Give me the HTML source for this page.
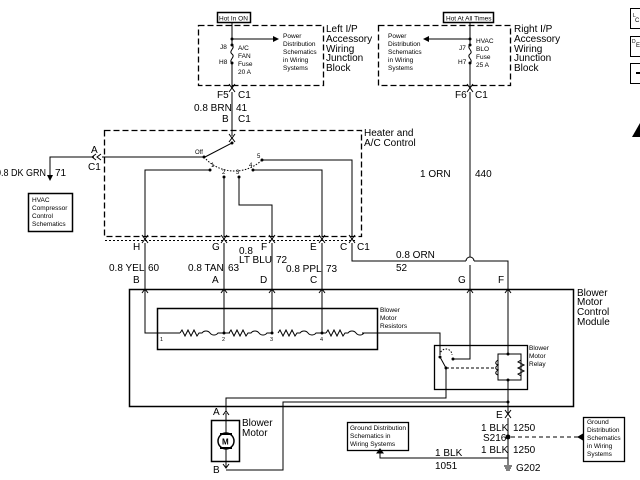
<!DOCTYPE html>
<html><head><meta charset="utf-8"><style>
html,body{margin:0;padding:0;background:#fff}
svg{display:block}
text{font-family:"Liberation Sans",sans-serif;fill:#000}
.s{font-size:6.5px}
.m{font-size:10px}
</style></head><body>
<svg width="640" height="480" viewBox="0 0 640 480" xmlns="http://www.w3.org/2000/svg">
<defs>
<marker id="ar" markerWidth="6" markerHeight="6" refX="5" refY="3" orient="auto"><path d="M0,0L6,3L0,6z" fill="#000"/></marker>
</defs>
<g fill="none" stroke="#000" stroke-width="1">
<rect x="217.5" y="12.5" width="33" height="10" stroke-width="1.5"/>
<rect x="443.5" y="12.5" width="50" height="10" stroke-width="1.5"/>
<rect x="198.5" y="25.5" width="125" height="60" stroke-dasharray="6,3" stroke-width="1.3"/>
<rect x="378.5" y="25.5" width="132" height="60" stroke-dasharray="6,3" stroke-width="1.3"/>
<path d="M232,22V45M232,63V88"/>
<path d="M232,45c4,3 -4,6 0,9c4,3 -4,6 0,9"/>
<path d="M232,39H278" marker-end="url(#ar)"/>
<path d="M229,84l3,4l3,-4M229,92l3,-4l3,4"/>
<path d="M232,92V136"/>
<path d="M229,134l3,4l3,-4M229,142l3,-4l3,4"/>
<path d="M470,22V45M470,63V88"/>
<path d="M470,45c-4,3 4,6 0,9c-4,3 4,6 0,9"/>
<path d="M470,39H424" marker-end="url(#ar)"/>
<path d="M467,84l3,4l3,-4M467,92l3,-4l3,4"/>
<path d="M470,92V257"/>
<path d="M466,261a4,4 0 0 1 8,0"/>
<path d="M470,265V289"/>
<rect x="104.5" y="130.5" width="257" height="106" stroke-dasharray="6,3" stroke-width="1.3"/>
<path d="M232,142V143L205,157" />
<path d="M204,157H102"/>
<path d="M101,154l-4,3l4,3M96,154l-4,3l4,3"/>
<path d="M94,157H50V180" marker-end="url(#ar)"/>
<rect x="28.5" y="193.5" width="44" height="38" stroke-width="1.5"/>
<path d="M204,157A40,40 0 0 0 262,160" stroke-dasharray="1.5,1.5"/>
<path d="M210,170H145V237M224,177V237M239,177V205H272V237M253,170H322V237M262,160H352V237"/>
<path d="M105,240.5H356" stroke-dasharray="2,2"/>
<path d="M142,235l3,4l3,-4M142,243l3,-4l3,4M221,235l3,4l3,-4M221,243l3,-4l3,4M269,235l3,4l3,-4M269,243l3,-4l3,4M319,235l3,4l3,-4M319,243l3,-4l3,4M349,235l3,4l3,-4M349,243l3,-4l3,4"/>
<path d="M145,243V289M224,243V289M272,243V289M322,243V289"/>
<path d="M352,243V261H466M474,261H508V289"/>
<path d="M142,293l3,-4l3,4M221,293l3,-4l3,4M269,293l3,-4l3,4M319,293l3,-4l3,4M467,293l3,-4l3,4M505,293l3,-4l3,4"/>
<rect x="129.5" y="289.5" width="444" height="117" stroke-width="1.5"/>
<rect x="157.5" y="308.5" width="220" height="41" stroke-width="1.5"/>
<path d="M145,289V333H180M224,289V333M272,289V333M322,289V333"/>
<path d="M180,333l2,-3l3,6l3,-6l3,6l3,-6l3,6l2,-3h3a5,5 0 0 1 8,0a5,5 0 0 0 8,0h12"/>
<path d="M229,333l2,-3l3,6l3,-6l3,6l3,-6l3,6l2,-3h3a5,5 0 0 1 8,0a5,5 0 0 0 8,0h6"/>
<path d="M278,333l2,-3l3,6l3,-6l3,6l3,-6l3,6l2,-3h3a5,5 0 0 1 8,0a5,5 0 0 0 8,0h10"/>
<path d="M326,333l2,-3l3,6l3,-6l3,6l3,-6l3,6l2,-3h3a5,5 0 0 1 8,0a5,5 0 0 0 8,0"/>
<path d="M362,333H440V355"/>
<rect x="434.5" y="345.5" width="93" height="44" stroke-width="1.3"/>
<path d="M453,359H470V289"/>
<path d="M440,355a6,6 0 0 1 12,0" stroke-dasharray="1.5,1.5"/>
<path d="M440,357L446,368V398H226V412"/>
<path d="M446,368H495" stroke-dasharray="3,2"/>
<path d="M508,289V354H498V380H508M508,354H521V380H508V414"/>
<path d="M498,360c-3,2 -3,4 0,5c-3,2 -3,4 0,5c-3,2 -3,4 0,5"/>
<path d="M521,360l-3,2l6,3l-6,3l6,3l-6,3l3,2"/>
<path d="M508,402H283V470H226"/>
<path d="M223,415l3,-4l3,4"/>
<rect x="211.5" y="420.5" width="28" height="41" stroke-width="1.5"/>
<path d="M226,413V433M226,449V467"/>
<path d="M223,464l3,4l3,-4"/>
<circle cx="226" cy="441" r="8" stroke-width="1.5"/>
<path d="M505,410l3,4l3,-4M505,418l3,-4l3,4"/>
<path d="M508,418V465"/>
<path d="M508,458H380V452" />
<path d="M377,453l3,-4l3,4z" fill="#000"/>
<rect x="347.5" y="422.5" width="61" height="28" stroke-width="1.3"/>
<path d="M511,437H580" stroke-dasharray="4,3"/>
<path d="M583,434l-5,3l5,3z" fill="#000"/>
<rect x="583.5" y="417.5" width="41" height="44" stroke-width="1.3"/>
<path d="M504,466h8M505,468h6M506,470h4"/>
<rect x="630.5" y="8.5" width="12" height="20"/>
<rect x="630.5" y="36.5" width="12" height="20"/>
<rect x="630.5" y="63.5" width="12" height="20"/>
</g>
<g fill="#000">
<circle cx="232" cy="39" r="1.5"/><circle cx="232" cy="45" r="1.5"/><circle cx="232" cy="63" r="1.5"/>
<circle cx="470" cy="39" r="1.5"/><circle cx="470" cy="45" r="1.5"/><circle cx="470" cy="63" r="1.5"/>
<circle cx="232" cy="143" r="1.5"/><circle cx="204" cy="157" r="1.5"/>
<circle cx="210" cy="170" r="1.5"/><circle cx="224" cy="177" r="1.5"/><circle cx="239" cy="177" r="1.5"/><circle cx="253" cy="170" r="1.5"/><circle cx="262" cy="160" r="1.5"/>
<circle cx="224" cy="333" r="1.5"/><circle cx="272" cy="333" r="1.5"/><circle cx="322" cy="333" r="1.5"/>
<circle cx="440" cy="357" r="1.5"/><circle cx="453" cy="359" r="1.5"/><circle cx="446" cy="368" r="1.5"/>
<circle cx="508" cy="354" r="1.5"/><circle cx="508" cy="380" r="1.5"/><circle cx="508" cy="402" r="1.5"/>
<circle cx="508" cy="437" r="2.5"/>
<rect x="636" y="72" width="4" height="2"/>
<path d="M632,137L640,123V137z"/>
<rect x="220" y="433" width="12" height="2"/><rect x="220" y="447" width="12" height="2"/>
</g>
<text x="219" y="20.5" style="font-size:6.5px">Hot In ON</text>
<text x="446" y="20.5" style="font-size:6.5px">Hot At All Times</text>
<text x="283" y="38" class="s">Power</text><text x="283" y="46" class="s">Distribution</text><text x="283" y="54" class="s">Schematics</text><text x="283" y="62" class="s">in Wiring</text><text x="283" y="70" class="s">Systems</text>
<text x="220" y="49" class="s">J8</text><text x="219" y="64" class="s">H8</text>
<text x="238" y="50" class="s">A/C</text><text x="238" y="58" class="s">FAN</text><text x="238" y="66" class="s">Fuse</text><text x="238" y="74" class="s">20 A</text>
<text x="326" y="32" class="m">Left I/P</text><text x="326" y="42" class="m">Accessory</text><text x="326" y="52" class="m">Wiring</text><text x="326" y="61" class="m">Junction</text><text x="326" y="71" class="m">Block</text>
<text x="388" y="38" class="s">Power</text><text x="388" y="46" class="s">Distribution</text><text x="388" y="54" class="s">Schematics</text><text x="388" y="62" class="s">in Wiring</text><text x="388" y="70" class="s">Systems</text>
<text x="459" y="50" class="s">J7</text><text x="458" y="64" class="s">H7</text>
<text x="476" y="43" class="s">HVAC</text><text x="476" y="51" class="s">BLO</text><text x="476" y="59" class="s">Fuse</text><text x="476" y="67" class="s">25 A</text>
<text x="514" y="32" class="m">Right I/P</text><text x="514" y="42" class="m">Accessory</text><text x="514" y="52" class="m">Wiring</text><text x="514" y="61" class="m">Junction</text><text x="514" y="71" class="m">Block</text>
<text x="633" y="17" style="font-size:5px">L</text><text x="635" y="22" style="font-size:6px">C</text>
<text x="632" y="43" style="font-size:5px">D</text><text x="636" y="47" style="font-size:6px">E</text>
<text x="217" y="98" class="m">F5</text><text x="238" y="98" class="m">C1</text>
<text x="194" y="111" class="m">0.8 BRN</text><text x="236" y="111" class="m">41</text>
<text x="222" y="122" class="m">B</text><text x="238" y="122" class="m">C1</text>
<text x="455" y="98" class="m">F6</text><text x="475" y="98" class="m">C1</text>
<text x="420" y="177" class="m">1 ORN</text><text x="475" y="177" class="m">440</text>
<text x="364" y="136" class="m">Heater and</text><text x="364" y="146" class="m">A/C Control</text>
<text x="195" y="154" style="font-size:6px">Off</text>
<text x="211" y="167" style="font-size:6px">1</text><text x="222" y="174" style="font-size:6px">2</text><text x="236" y="174" style="font-size:6px">3</text><text x="249" y="167" style="font-size:6px">4</text><text x="257" y="158" style="font-size:6px">5</text>
<text x="91" y="153" class="m">A</text><text x="88" y="170" class="m">C1</text>
<text x="-4" y="176" class="m" textLength="50" lengthAdjust="spacingAndGlyphs">0.8 DK GRN</text><text x="55" y="176" class="m">71</text>
<text x="32" y="202" class="s">HVAC</text><text x="32" y="210" class="s">Compressor</text><text x="32" y="218" class="s">Control</text><text x="32" y="226" class="s">Schematics</text>
<text x="133" y="250" class="m">H</text><text x="212" y="250" class="m">G</text><text x="261" y="250" class="m">F</text><text x="310" y="250" class="m">E</text><text x="340" y="250" class="m">C</text><text x="357" y="250" class="m">C1</text>
<text x="239" y="254" class="m">0.8</text><text x="239" y="263" class="m">LT BLU</text><text x="276" y="263" class="m">72</text>
<text x="109" y="271" class="m">0.8 YEL</text><text x="148" y="271" class="m">60</text>
<text x="188" y="271" class="m">0.8 TAN</text><text x="228" y="271" class="m">63</text>
<text x="286" y="272" class="m">0.8 PPL</text><text x="326" y="272" class="m">73</text>
<text x="396" y="258" class="m">0.8 ORN</text><text x="396" y="271" class="m">52</text>
<text x="133" y="283" class="m">B</text><text x="212" y="283" class="m">A</text><text x="260" y="283" class="m">D</text><text x="310" y="283" class="m">C</text>
<text x="458" y="283" class="m">G</text><text x="498" y="283" class="m">F</text>
<text x="577" y="296" class="m">Blower</text><text x="577" y="305" class="m">Motor</text><text x="577" y="315" class="m">Control</text><text x="577" y="325" class="m">Module</text>
<text x="380" y="312" class="s">Blower</text><text x="380" y="320" class="s">Motor</text><text x="380" y="328" class="s">Resistors</text>
<text x="160" y="341" style="font-size:5.5px">1</text><text x="222" y="341" style="font-size:5.5px">2</text><text x="270" y="341" style="font-size:5.5px">3</text><text x="320" y="341" style="font-size:5.5px">4</text>
<text x="529" y="350" class="s">Blower</text><text x="529" y="358" class="s">Motor</text><text x="529" y="366" class="s">Relay</text>
<text x="213" y="415" class="m">A</text><text x="213" y="473" class="m">B</text>
<text x="242" y="426" class="m">Blower</text><text x="242" y="436" class="m">Motor</text>
<text x="222" y="444.5" style="font-size:8px;font-weight:bold">M</text>
<text x="496" y="418" class="m">E</text>
<text x="481" y="431" class="m">1 BLK</text><text x="513" y="431" class="m">1250</text>
<text x="483" y="441" class="m">S216</text>
<text x="481" y="453" class="m">1 BLK</text><text x="513" y="453" class="m">1250</text>
<text x="516" y="471" class="m">G202</text>
<text x="435" y="456" class="m">1 BLK</text><text x="435" y="469" class="m">1051</text>
<text x="350" y="430" class="s">Ground Distribution</text><text x="350" y="438" class="s">Schematics in</text><text x="350" y="446" class="s">Wiring Systems</text>
<text x="587" y="424" class="s">Ground</text><text x="587" y="432" class="s">Distribution</text><text x="587" y="440" class="s">Schematics</text><text x="587" y="448" class="s">in Wiring</text><text x="587" y="456" class="s">Systems</text>
</svg>
</body></html>
